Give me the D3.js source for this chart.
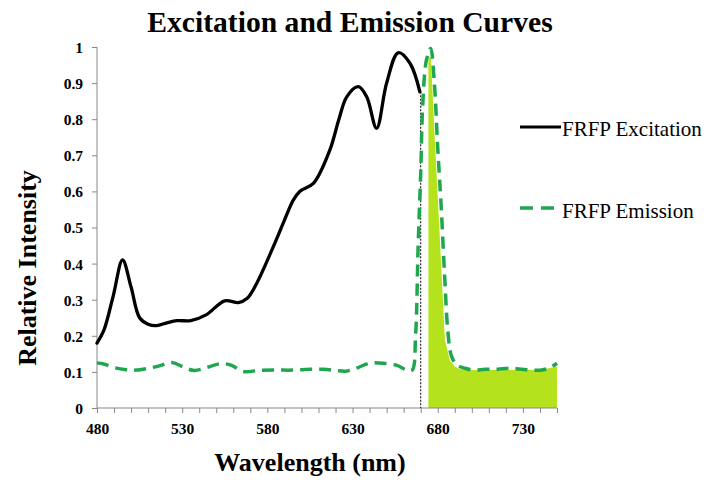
<!DOCTYPE html>
<html>
<head>
<meta charset="utf-8">
<script src="https://cdn.jsdelivr.net/npm/d3@7"></script>
<style>
  html, body { margin: 0; padding: 0; background: #fff; }
  svg { display: block; }
  text { font-family: "Liberation Serif", "Times New Roman", serif; }
</style>
</head>
<body>
<svg id="chart" width="708" height="480"></svg>
<script>
// ---- data ----
const excitationNm = [480, 484, 489.5, 495, 500, 505, 510, 515, 521, 527, 535, 544, 555, 563, 568, 573.7, 583.5, 589.3, 595.2, 599, 607, 616.7, 622, 626.6, 633.4, 638.3, 644.1, 650, 656.8, 663.7, 669.5];
const excitationVal = [0.18, 0.215, 0.31, 0.41, 0.335, 0.25, 0.232, 0.228, 0.236, 0.242, 0.242, 0.258, 0.297, 0.292, 0.303, 0.345, 0.447, 0.512, 0.576, 0.6, 0.622, 0.715, 0.8, 0.862, 0.89, 0.862, 0.775, 0.90, 0.984, 0.955, 0.876];

const emissionNm = [480, 484, 490, 497, 503, 510, 516, 524, 530, 537, 545, 553, 559, 566, 575, 585, 595, 605, 613, 620, 626, 632, 640, 648, 656, 662, 665, 667, 668.5, 670, 671.2, 673.4, 675.8, 678, 680, 682, 684, 686, 688, 691, 696, 701, 708, 715, 722, 728, 735, 741, 746, 750];
const emissionVal = [0.125, 0.122, 0.112, 0.106, 0.105, 0.11, 0.116, 0.126, 0.115, 0.104, 0.113, 0.123, 0.118, 0.101, 0.104, 0.105, 0.105, 0.107, 0.107, 0.104, 0.102, 0.11, 0.124, 0.124, 0.118, 0.105, 0.105, 0.2, 0.45, 0.65, 0.84, 0.965, 0.996, 0.9, 0.72, 0.56, 0.37, 0.21, 0.145, 0.12, 0.11, 0.105, 0.107, 0.107, 0.11, 0.108, 0.105, 0.105, 0.112, 0.124];

const fillNm = [674.5, 676, 678.3, 681.3, 684.2, 687, 690, 693, 700, 720, 740, 750];
const fillVal = [0.973, 0.97, 0.742, 0.465, 0.19, 0.133, 0.115, 0.108, 0.105, 0.105, 0.106, 0.114];

const markerNm = 670;
const yTicks = [0, 0.1, 0.2, 0.3, 0.4, 0.5, 0.6, 0.7, 0.8, 0.9, 1];
const xLabelTicks = [480, 530, 580, 630, 680, 730];
const xMinorTicks = d3.range(480, 751, 10);

const titleText = "Excitation and Emission Curves";
const xTitle = "Wavelength (nm)";
const yTitle = "Relative Intensity";
const seriesNames = ["FRFP Excitation", "FRFP Emission"];

// ---- layout ----
const svg = d3.select("#chart");
const x = d3.scaleLinear().domain([480, 750]).range([97, 557]);
const y = d3.scaleLinear().domain([0, 1]).range([408, 47]);
const axisColor = "#888888";
const green = "#1fa64e";
const fillColor = "#b4e31e";
const dash = "12,7";

const exc = excitationNm.map((d, i) => [d, excitationVal[i]]);
const emi = emissionNm.map((d, i) => [d, emissionVal[i]]);
const fil = fillNm.map((d, i) => [d, fillVal[i]]);

// fill area
svg.append("path")
  .datum(fil)
  .attr("fill", fillColor)
  .attr("d", d3.area().x(d => x(d[0])).y0(y(0)).y1(d => y(d[1])).curve(d3.curveLinear));

// axes
const yAxis = svg.append("g").attr("transform", `translate(${x(480)},0)`)
  .call(d3.axisLeft(y).tickValues(yTicks).tickSize(5).tickFormat(d3.format("")));
yAxis.select(".domain").attr("stroke", axisColor).attr("d", `M-0,${y(1)}V${y(0)}`);
yAxis.selectAll(".tick line").attr("stroke", axisColor);
yAxis.selectAll(".tick text")
  .attr("x", -14).attr("dy", "0.35em")
  .attr("font-family", "Liberation Serif").attr("font-weight", "bold").attr("font-size", 15.5).attr("fill", "#000");

const xAxis = svg.append("g").attr("transform", `translate(0,${y(0)})`)
  .call(d3.axisBottom(x).tickValues(xMinorTicks).tickSize(5)
    .tickFormat(d => xLabelTicks.includes(d) ? d : ""));
xAxis.select(".domain").attr("stroke", axisColor).attr("d", `M${x(480)},0H${x(750)}`);
xAxis.selectAll(".tick line").attr("stroke", axisColor);
xAxis.selectAll(".tick text")
  .attr("y", 15).attr("dy", "0.71em")
  .attr("font-family", "Liberation Serif").attr("font-weight", "bold").attr("font-size", 15.5).attr("fill", "#000");

// excitation line
svg.append("path")
  .datum(exc)
  .attr("fill", "none").attr("stroke", "#000").attr("stroke-width", 3.3)
  .attr("stroke-linejoin", "round").attr("stroke-linecap", "round")
  .attr("d", d3.line().x(d => x(d[0])).y(d => y(d[1])).curve(d3.curveCatmullRom.alpha(0.5)));

// dotted marker
const lastExc = exc[exc.length - 1];
svg.append("line")
  .attr("x1", x(markerNm)).attr("x2", x(markerNm))
  .attr("y1", y(lastExc[1])).attr("y2", y(0))
  .attr("stroke", "#000").attr("stroke-width", 1).attr("stroke-dasharray", "2,1.5");

// emission line
svg.append("path")
  .datum(emi)
  .attr("fill", "none").attr("stroke", green).attr("stroke-width", 3.5)
  .attr("stroke-dasharray", dash)
  .attr("d", d3.line().x(d => x(d[0])).y(d => y(d[1])).curve(d3.curveCatmullRom.alpha(0.5)));

// title
svg.append("text").attr("x", 350).attr("y", 32).attr("text-anchor", "middle")
  .attr("font-weight", "bold").attr("font-size", 29.6).text(titleText);

// axis titles
svg.append("text").attr("x", 310).attr("y", 471).attr("text-anchor", "middle")
  .attr("font-weight", "bold").attr("font-size", 26).text(xTitle);
svg.append("text").attr("transform", "translate(36,268) rotate(-90)").attr("text-anchor", "middle")
  .attr("font-weight", "bold").attr("font-size", 26).text(yTitle);

// legend
const legendLineY = [127, 208];
const legendTextY = [136, 218];
svg.append("line").attr("x1", 520).attr("x2", 561).attr("y1", legendLineY[0]).attr("y2", legendLineY[0])
  .attr("stroke", "#000").attr("stroke-width", 3);
svg.append("line").attr("x1", 520).attr("x2", 555).attr("y1", legendLineY[1]).attr("y2", legendLineY[1])
  .attr("stroke", green).attr("stroke-width", 3.5).attr("stroke-dasharray", "13,8");
seriesNames.forEach((name, i) => {
  svg.append("text").attr("x", 562).attr("y", legendTextY[i])
    .attr("font-size", 21).attr("fill", "#000").text(name);
});
</script>
</body>
</html>
